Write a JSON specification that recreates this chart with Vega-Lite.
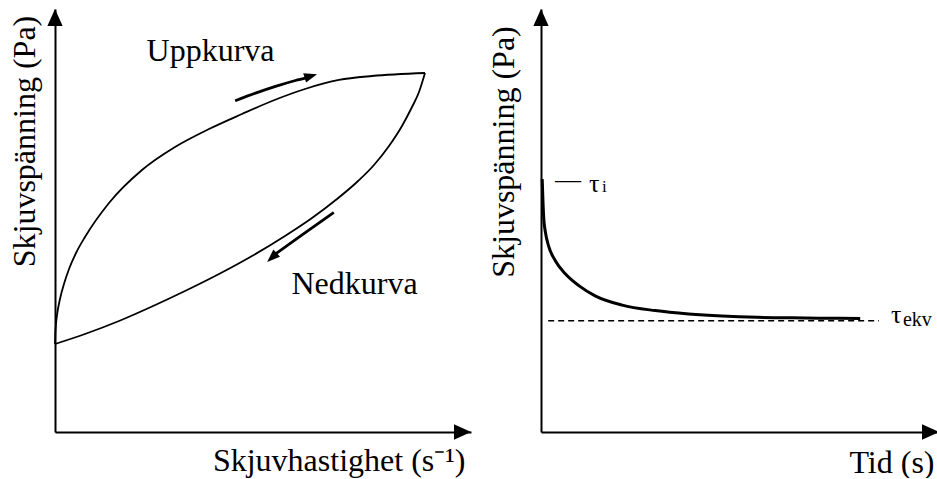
{
  "$schema": "https://vega.github.io/schema/vega-lite/v6.json",
  "background": "white",
  "autosize": {"type": "pad"},
  "padding": {"left": 7, "top": 9, "right": 0, "bottom": 0},
  "bounds": "flush",
  "spacing": 70,
  "config": {
    "view": {"stroke": null},
    "axis": {
      "domain": true,
      "domainColor": "black",
      "domainWidth": 2,
      "ticks": false,
      "labels": false,
      "grid": false,
      "titleFont": "Liberation Serif",
      "titleFontSize": 32,
      "titleFontWeight": "normal",
      "titleColor": "black"
    },
    "text": {"font": "Liberation Serif", "color": "black"}
  },
  "datasets": {
    "hysteres": [
      {"kurva": "upp", "hastighet": 0, "spanning": 20.8},
      {"kurva": "upp", "hastighet": 0.07, "spanning": 23.17},
      {"kurva": "upp", "hastighet": 0.24, "spanning": 25.53},
      {"kurva": "upp", "hastighet": 0.6, "spanning": 28.37},
      {"kurva": "upp", "hastighet": 1.2, "spanning": 31.44},
      {"kurva": "upp", "hastighet": 2.16, "spanning": 34.99},
      {"kurva": "upp", "hastighet": 3.37, "spanning": 38.53},
      {"kurva": "upp", "hastighet": 5.05, "spanning": 42.32},
      {"kurva": "upp", "hastighet": 7.21, "spanning": 46.1},
      {"kurva": "upp", "hastighet": 12.98, "spanning": 54.14},
      {"kurva": "upp", "hastighet": 20.91, "spanning": 61.94},
      {"kurva": "upp", "hastighet": 28.85, "spanning": 67.38},
      {"kurva": "upp", "hastighet": 37.02, "spanning": 71.63},
      {"kurva": "upp", "hastighet": 44.95, "spanning": 75.18},
      {"kurva": "upp", "hastighet": 52.16, "spanning": 78.25},
      {"kurva": "upp", "hastighet": 60.1, "spanning": 81.09},
      {"kurva": "upp", "hastighet": 68.27, "spanning": 83.22},
      {"kurva": "upp", "hastighet": 76.2, "spanning": 84.16},
      {"kurva": "upp", "hastighet": 88.94, "spanning": 84.87},
      {"kurva": "ned", "hastighet": 0, "spanning": 20.8},
      {"kurva": "ned", "hastighet": 7.21, "spanning": 23.17},
      {"kurva": "ned", "hastighet": 15.38, "spanning": 26.24},
      {"kurva": "ned", "hastighet": 23.32, "spanning": 29.67},
      {"kurva": "ned", "hastighet": 31.25, "spanning": 33.33},
      {"kurva": "ned", "hastighet": 39.42, "spanning": 37.35},
      {"kurva": "ned", "hastighet": 47.36, "spanning": 41.61},
      {"kurva": "ned", "hastighet": 55.29, "spanning": 46.34},
      {"kurva": "ned", "hastighet": 61.78, "spanning": 50.59},
      {"kurva": "ned", "hastighet": 67.79, "spanning": 55.08},
      {"kurva": "ned", "hastighet": 72.6, "spanning": 59.1},
      {"kurva": "ned", "hastighet": 76.68, "spanning": 63.12},
      {"kurva": "ned", "hastighet": 80.29, "spanning": 67.61},
      {"kurva": "ned", "hastighet": 83.41, "spanning": 72.34},
      {"kurva": "ned", "hastighet": 85.82, "spanning": 76.83},
      {"kurva": "ned", "hastighet": 87.5, "spanning": 80.38},
      {"kurva": "ned", "hastighet": 88.94, "spanning": 84.87}
    ],
    "pilar": [
      {"pil": "upp", "hastighet": 43.3, "spanning": 78.3},
      {"pil": "upp", "hastighet": 48.2, "spanning": 80.1},
      {"pil": "upp", "hastighet": 53.0, "spanning": 81.7},
      {"pil": "upp", "hastighet": 57.8, "spanning": 83.1},
      {"pil": "upp", "hastighet": 60.6, "spanning": 83.8},
      {"pil": "ned", "hastighet": 67.0, "spanning": 51.9},
      {"pil": "ned", "hastighet": 59.4, "spanning": 46.6},
      {"pil": "ned", "hastighet": 52.9, "spanning": 42.0}
    ],
    "pilspetsar": [
      {"pil": "upp", "hastighet": 63.0, "spanning": 84.6},
      {"pil": "ned", "hastighet": 51.0, "spanning": 40.2}
    ],
    "etiketter": [
      {"etikett": "Uppkurva", "hastighet": 37.4, "spanning": 87.8},
      {"etikett": "Nedkurva", "hastighet": 72.0, "spanning": 32.6}
    ],
    "axlar_vanster": [
      {"axel": "x", "hastighet": 100, "spanning": 0},
      {"axel": "y", "hastighet": 0, "spanning": 100}
    ],
    "avklingning": [
      {"tid": 0.3, "spanning": 59.8},
      {"tid": 0.5, "spanning": 54.4},
      {"tid": 0.7, "spanning": 50.4},
      {"tid": 1.1, "spanning": 47.3},
      {"tid": 1.9, "spanning": 44.0},
      {"tid": 3.6, "spanning": 40.5},
      {"tid": 6.1, "spanning": 37.4},
      {"tid": 9.5, "spanning": 34.6},
      {"tid": 13.6, "spanning": 32.2},
      {"tid": 20.4, "spanning": 30.0},
      {"tid": 28.7, "spanning": 28.7},
      {"tid": 37.1, "spanning": 27.9},
      {"tid": 45.5, "spanning": 27.4},
      {"tid": 54.3, "spanning": 27.1},
      {"tid": 63.1, "spanning": 27.0},
      {"tid": 71.6, "spanning": 26.9},
      {"tid": 80.2, "spanning": 26.85}
    ],
    "initial": [
      {"tid": 0, "spanning": 59.8, "symbol": "τ", "index": "i"}
    ],
    "jamvikt": [
      {"tid": 1.8, "tid_slut": 84.9, "spanning": 26.3, "symbol": "τ", "index": "ekv"}
    ],
    "axlar_hoger": [
      {"axel": "x", "tid": 100, "spanning": 0},
      {"axel": "y", "tid": 0, "spanning": 100}
    ]
  },
  "hconcat": [
    {
      "width": 416,
      "height": 423,
      "encoding": {
        "x": {
          "field": "hastighet",
          "type": "quantitative",
          "scale": {"domain": [0, 100], "nice": false, "zero": false},
          "axis": {
            "title": "Skjuvhastighet (s⁻¹)",
            "titleFont": "Liberation Serif",
            "titleX": 410,
            "titleY": 38,
            "titleAlign": "right",
            "titleBaseline": "alphabetic"
          }
        },
        "y": {
          "field": "spanning",
          "type": "quantitative",
          "scale": {"domain": [0, 100], "nice": false, "zero": false},
          "axis": {
            "title": "Skjuvspänning (Pa)",
            "titleFont": "Liberation Serif",
            "titleX": -21,
            "titleY": 132,
            "titleAngle": 270,
            "titleAlign": "center",
            "titleBaseline": "alphabetic"
          }
        }
      },
      "layer": [
        {
          "data": {"name": "hysteres"},
          "mark": {"type": "line", "interpolate": "monotone", "color": "black", "strokeWidth": 1.8},
          "encoding": {"detail": {"field": "kurva"}}
        },
        {
          "data": {"name": "pilar"},
          "mark": {"type": "line", "interpolate": "monotone", "color": "black", "strokeWidth": 2.8},
          "encoding": {"detail": {"field": "pil"}}
        },
        {
          "data": {"name": "pilspetsar"},
          "transform": [{"filter": "datum.pil === 'upp'"}],
          "mark": {"type": "point", "shape": "M0,0L0.75,2L-0.75,2Z", "filled": true, "color": "black", "opacity": 1, "size": 169, "angle": 73}
        },
        {
          "data": {"name": "pilspetsar"},
          "transform": [{"filter": "datum.pil === 'ned'"}],
          "mark": {"type": "point", "shape": "M0,0L0.75,2L-0.75,2Z", "filled": true, "color": "black", "opacity": 1, "size": 169, "angle": 227}
        },
        {
          "data": {"name": "etiketter"},
          "mark": {"type": "text", "fontSize": 32, "align": "center", "baseline": "alphabetic"},
          "encoding": {"text": {"field": "etikett"}}
        },
        {
          "data": {"name": "axlar_vanster"},
          "transform": [{"filter": "datum.axel === 'x'"}],
          "mark": {"type": "point", "shape": "M0,0L0.9,2L-0.9,2Z", "filled": true, "color": "black", "opacity": 1, "size": 289, "angle": 90}
        },
        {
          "data": {"name": "axlar_vanster"},
          "transform": [{"filter": "datum.axel === 'y'"}],
          "mark": {"type": "point", "shape": "M0,0L0.9,2L-0.9,2Z", "filled": true, "color": "black", "opacity": 1, "size": 289, "angle": 0}
        }
      ]
    },
    {
      "width": 398,
      "height": 423,
      "encoding": {
        "x": {
          "field": "tid",
          "type": "quantitative",
          "scale": {"domain": [0, 100], "nice": false, "zero": false},
          "axis": {
            "title": "Tid (s)",
            "titleFont": "Liberation Serif",
            "titleX": 393,
            "titleY": 40,
            "titleAlign": "right",
            "titleBaseline": "alphabetic"
          }
        },
        "y": {
          "field": "spanning",
          "type": "quantitative",
          "scale": {"domain": [0, 100], "nice": false, "zero": false},
          "axis": {
            "title": "Skjuvspänning (Pa)",
            "titleFont": "Liberation Serif",
            "titleX": -27.5,
            "titleY": 142.5,
            "titleAngle": 270,
            "titleAlign": "center",
            "titleBaseline": "alphabetic"
          }
        }
      },
      "layer": [
        {
          "data": {"name": "jamvikt"},
          "mark": {"type": "rule", "color": "black", "strokeWidth": 1.7, "strokeDash": [6, 4]},
          "encoding": {"x2": {"field": "tid_slut"}}
        },
        {
          "data": {"name": "avklingning"},
          "mark": {"type": "line", "interpolate": "monotone", "color": "black", "strokeWidth": 3}
        },
        {
          "data": {"name": "jamvikt"},
          "mark": {"type": "text", "fontSize": 26, "align": "left", "baseline": "alphabetic", "dx": 12, "dy": 2.3},
          "encoding": {"x": {"field": "tid_slut", "type": "quantitative"}, "text": {"field": "symbol"}}
        },
        {
          "data": {"name": "jamvikt"},
          "mark": {"type": "text", "fontSize": 20, "align": "left", "baseline": "alphabetic", "dx": 24, "dy": 5.5},
          "encoding": {"x": {"field": "tid_slut", "type": "quantitative"}, "text": {"field": "index"}}
        },
        {
          "data": {"name": "initial"},
          "mark": {"type": "text", "fontSize": 26, "align": "left", "baseline": "alphabetic", "dx": 14, "dy": 9},
          "encoding": {"text": {"value": "—"}}
        },
        {
          "data": {"name": "initial"},
          "mark": {"type": "text", "fontSize": 26, "align": "left", "baseline": "alphabetic", "dx": 48, "dy": 13},
          "encoding": {"text": {"field": "symbol"}}
        },
        {
          "data": {"name": "initial"},
          "mark": {"type": "text", "fontSize": 17, "align": "left", "baseline": "alphabetic", "dx": 61, "dy": 13},
          "encoding": {"text": {"field": "index"}}
        },
        {
          "data": {"name": "axlar_hoger"},
          "transform": [{"filter": "datum.axel === 'x'"}],
          "mark": {"type": "point", "shape": "M0,0L0.9,2L-0.9,2Z", "filled": true, "color": "black", "opacity": 1, "size": 289, "angle": 90}
        },
        {
          "data": {"name": "axlar_hoger"},
          "transform": [{"filter": "datum.axel === 'y'"}],
          "mark": {"type": "point", "shape": "M0,0L0.9,2L-0.9,2Z", "filled": true, "color": "black", "opacity": 1, "size": 289, "angle": 0}
        }
      ]
    }
  ]
}
